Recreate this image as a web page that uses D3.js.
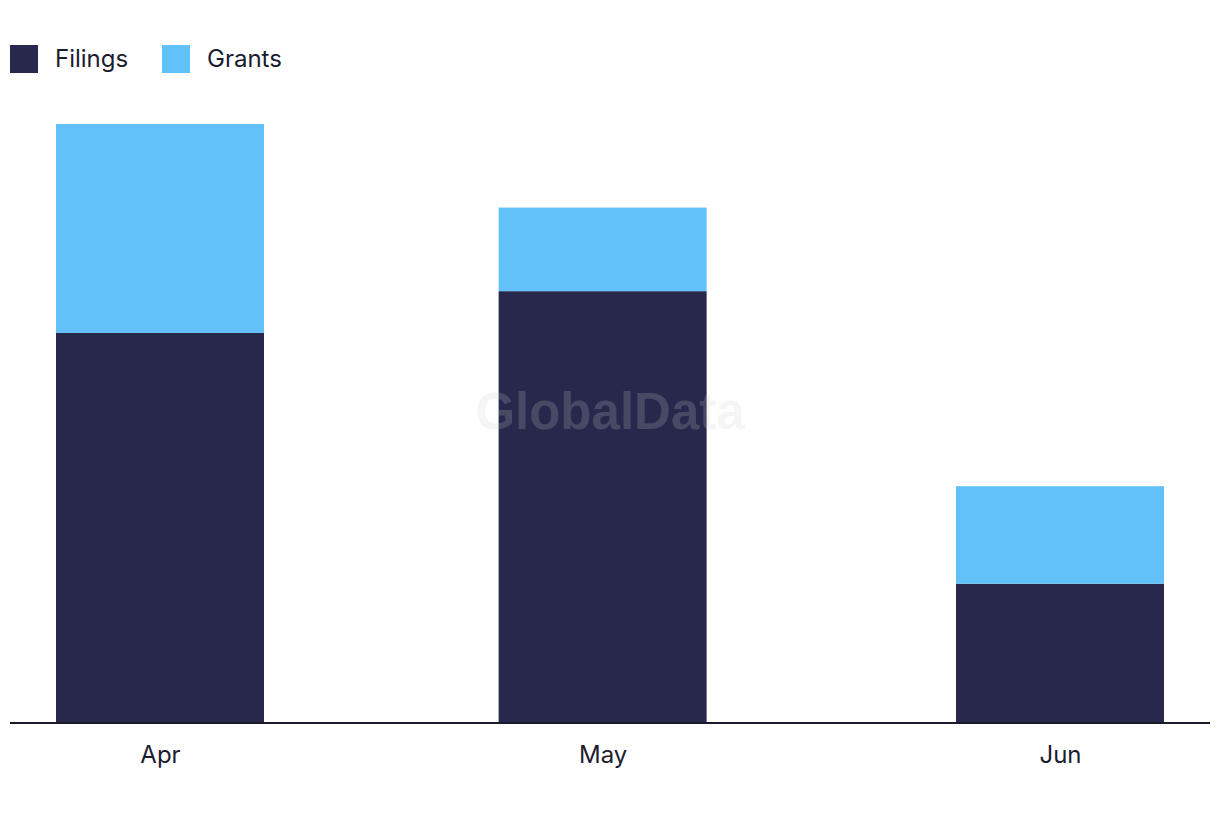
<!DOCTYPE html>
<html><head><meta charset="utf-8">
<script src="https://cdn.jsdelivr.net/npm/d3@7"></script>
<style>body{margin:0;background:#fff}svg{display:block}</style>
</head><body>
<svg id="c" width="1220" height="822"></svg>
<script>
const months = ["2024-04-01", "2024-05-01", "2024-06-01"];
const monthLabels = ["Apr", "May", "Jun"];
const filings = [28, 31, 10];
const grants = [15, 6, 7];
const seriesNames = ["Filings", "Grants"];
const colors = ["#27284b", "#62c1f8"];

const svg = d3.select("#c");
const parse = d3.utcParse("%Y-%m-%d");
const dates = months.map(parse);
const data = dates.map((d, i) => ({date: d, Filings: filings[i], Grants: grants[i]}));
const stack = d3.stack().keys(seriesNames)(data);

const x = d3.scaleUtc().domain([dates[0], dates[2]]).range([160, 1060]);
const y = d3.scaleLinear().domain([0, d3.max(data, d => d.Filings + d.Grants)]).range([723, 124]);
const bw = 208;

svg.append("g").selectAll("g").data(stack).join("g")
  .attr("fill", (d, i) => colors[i])
  .selectAll("rect").data(d => d).join("rect")
  .attr("x", d => x(d.data.date) - bw / 2)
  .attr("width", bw)
  .attr("y", d => y(d[1]))
  .attr("height", d => y(d[0]) - y(d[1]));

// watermark
svg.append("text").attr("x", 610).attr("y", 429).attr("text-anchor", "middle")
  .attr("font-family", "Liberation Sans, Arial, sans-serif").attr("font-weight", "bold")
  .attr("font-size", 51).attr("fill", "#cccccc").attr("fill-opacity", 0.2).text("GlobalData");

// axis
const ax = svg.append("g").attr("transform", "translate(0,723)")
  .call(d3.axisBottom(x).tickValues(dates).tickFormat((d, i) => monthLabels[i]).tickSize(0));
ax.select(".domain").remove();
ax.selectAll("text").attr("dy", null).attr("y", 40)
  .attr("font-family", "Inter, sans-serif").attr("font-size", 24).attr("fill", "#1c1c30");
svg.append("line").attr("x1", 10).attr("x2", 1210).attr("y1", 723).attr("y2", 723)
  .attr("stroke", "#1a1a2a").attr("stroke-width", 2);

// legend
const leg = svg.append("g").attr("transform", "translate(10,45)");
const legX = [0, 152];
seriesNames.forEach((n, i) => {
  const g = leg.append("g").attr("transform", `translate(${legX[i]},0)`);
  g.append("rect").attr("width", 28).attr("height", 28).attr("fill", colors[i]);
  g.append("text").attr("x", 45).attr("y", 22).attr("font-family", "Inter, sans-serif")
    .attr("font-size", 24).attr("fill", "#1c1c30").text(n);
});
</script>
</body></html>
